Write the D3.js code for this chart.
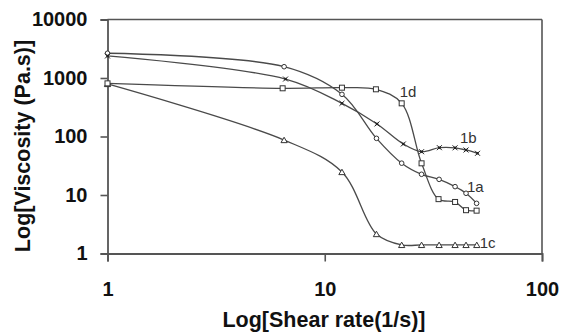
<!DOCTYPE html>
<html><head><meta charset="utf-8">
<script src="https://cdn.jsdelivr.net/npm/d3@7"></script>
<style>
html,body{margin:0;padding:0;background:#fff;}
svg{display:block;}
</style></head>
<body>
<script>
// Shear rates (1/s) and viscosities (Pa.s)
const shear1a = [1, 6.5, 12, 17.3, 22.6, 27.9, 33.6, 39.8, 44.7, 50];
const visc1a  = [2650, 1560, 526, 93, 35, 22.6, 18.5, 13.9, 10.7, 7.2];
const shear1b = [1, 6.6, 12, 17.4, 23, 27.9, 33.7, 39.8, 44.7, 50.5];
const visc1b  = [2380, 960, 369, 164, 74.5, 55, 64.4, 64, 58.8, 51.6];
const shear1c = [1, 6.5, 12, 17.3, 22.6, 27.9, 33.6, 39.8, 44.7, 50.1];
const visc1c  = [790, 87, 24.7, 2.15, 1.4, 1.4, 1.4, 1.4, 1.4, 1.4];
const shear1d = [1, 6.4, 12, 17.2, 22.6, 27.9, 33.4, 39.8, 44.7, 50];
const visc1d  = [810, 667, 683, 641, 369, 34.8, 8.5, 7.6, 5.5, 5.4];
const seriesNames = ["1a", "1b", "1c", "1d"];
const xTicks = [1, 10, 100];
const yTicks = [1, 10, 100, 1000, 10000];
const xTitle = "Log[Shear rate(1/s)]";
const yTitle = "Log[Viscosity (Pa.s)]";

const W = 562, H = 334;
const svg = d3.select("body").append("svg").attr("width", W).attr("height", H);

const x = d3.scaleLog().domain([1, 100]).range([107.5, 542]);
const y = d3.scaleLog().domain([1, 10000]).range([253.5, 19.5]);

const axisColor = "#555";
const lineColor = "#4a4a4a";

// frame (top & right)
svg.append("line").attr("x1", x(1)).attr("x2", x(100)).attr("y1", y(10000)).attr("y2", y(10000))
  .attr("stroke", axisColor).attr("stroke-width", 1.6);
svg.append("line").attr("x1", x(100)).attr("x2", x(100)).attr("y1", y(10000)).attr("y2", y(1))
  .attr("stroke", axisColor).attr("stroke-width", 1.6);

// axes
const xAxis = d3.axisBottom(x).tickValues(xTicks).tickFormat(d3.format("d")).tickSize(8).tickPadding(20);
const gx = svg.append("g").attr("transform", `translate(0,${y(1)})`).call(xAxis);
const yAxis = d3.axisLeft(y).tickValues(yTicks).tickFormat(d3.format("d")).tickSize(7).tickPadding(13);
const gy = svg.append("g").attr("transform", `translate(${x(1)},0)`).call(yAxis);
[gx, gy].forEach(g => {
  g.select(".domain").attr("stroke", axisColor).attr("stroke-width", 1.8);
  g.selectAll(".tick line").attr("stroke", axisColor).attr("stroke-width", 1.6);
  g.selectAll(".tick text").attr("fill", "#111").attr("font-family", "Liberation Sans, Arial, sans-serif")
    .attr("font-weight", "bold").attr("font-size", "20px");
});

// titles
svg.append("text").attr("x", 324).attr("y", 327).attr("text-anchor", "middle")
  .attr("font-family", "Liberation Sans, Arial, sans-serif").attr("font-weight", "bold")
  .attr("font-size", "21.5px").attr("fill", "#111").text(xTitle);
svg.append("text").attr("transform", "translate(30,146) rotate(-90)").attr("text-anchor", "middle")
  .attr("font-family", "Liberation Sans, Arial, sans-serif").attr("font-weight", "bold")
  .attr("font-size", "21.5px").attr("fill", "#111").text(yTitle);

const line = d3.line().x(d => x(d[0])).y(d => y(d[1])).curve(d3.curveCatmullRom.alpha(0.5));

const series = [
  {name: seriesNames[0], xs: shear1a, ys: visc1a, sym: "circle"},
  {name: seriesNames[1], xs: shear1b, ys: visc1b, sym: "star"},
  {name: seriesNames[2], xs: shear1c, ys: visc1c, sym: "triangle"},
  {name: seriesNames[3], xs: shear1d, ys: visc1d, sym: "square"}
];

series.forEach(s => {
  const pts = s.xs.map((v, i) => [v, s.ys[i]]);
  svg.append("path").datum(pts).attr("d", line).attr("fill", "none")
    .attr("stroke", lineColor).attr("stroke-width", 1.3);
  const g = svg.append("g");
  pts.forEach(p => {
    const cx = x(p[0]), cy = y(p[1]);
    if (s.sym === "circle") {
      g.append("circle").attr("cx", cx).attr("cy", cy).attr("r", 2.3)
        .attr("fill", "#fff").attr("stroke", "#333").attr("stroke-width", 1);
    } else if (s.sym === "square") {
      g.append("rect").attr("x", cx - 2.5).attr("y", cy - 2.5).attr("width", 5).attr("height", 5)
        .attr("fill", "#fff").attr("stroke", "#333").attr("stroke-width", 1);
    } else if (s.sym === "triangle") {
      g.append("path").attr("transform", `translate(${cx},${cy + 0.8})`)
        .attr("d", d3.symbol().type(d3.symbolTriangle2).size(28)())
        .attr("fill", "#fff").attr("stroke", "#333").attr("stroke-width", 1);
    } else {
      g.append("path").attr("transform", `translate(${cx},${cy})`)
        .attr("d", d3.symbol().type(d3.symbolTimes).size(18)())
        .attr("fill", "none").attr("stroke", "#222").attr("stroke-width", 1);
      g.append("rect").attr("x", cx - 1.2).attr("y", cy - 1.2).attr("width", 2.4).attr("height", 2.4)
        .attr("fill", "#222");
    }
  });
});

// series labels placed by data anchor points
const labelFont = "Liberation Sans, Arial, sans-serif";
const labels = [
  {t: seriesNames[3], px: x(shear1d[4]) - 2, py: y(visc1d[4]) - 6},
  {t: seriesNames[1], px: x(shear1b[8]) - 6, py: y(visc1b[8]) - 7},
  {t: seriesNames[0], px: x(shear1a[8]) + 1, py: y(visc1a[8]) - 1},
  {t: seriesNames[2], px: x(shear1c[9]) + 3, py: y(visc1c[9]) + 3}
];
labels.forEach(l => {
  svg.append("text").attr("x", l.px).attr("y", l.py).attr("font-family", labelFont)
    .attr("font-size", "15px").attr("fill", "#333").text(l.t);
});
</script>
</body></html>
